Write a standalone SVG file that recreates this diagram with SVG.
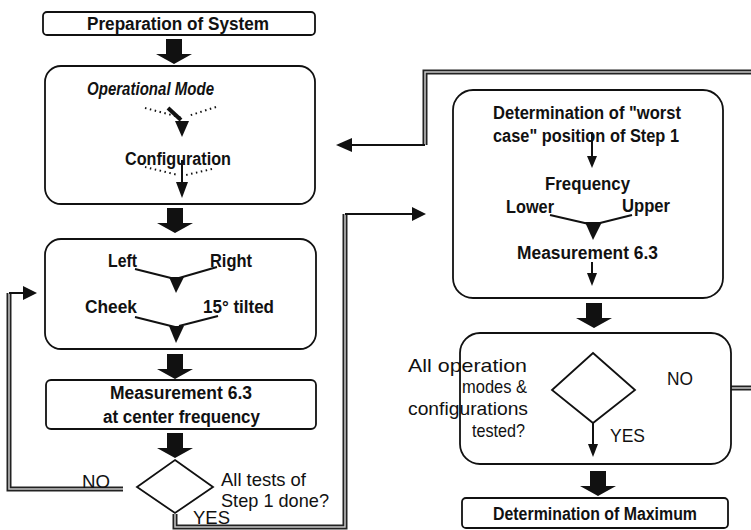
<svg xmlns="http://www.w3.org/2000/svg" width="751" height="530" viewBox="0 0 751 530">
<style>
.box{fill:#fff;stroke:#111;stroke-width:1.8}
.t{font-family:"Liberation Sans",Arial,sans-serif;fill:#111;font-size:19px}
.b{font-weight:bold;font-size:18px}
.ln{fill:none;stroke:#111;stroke-width:2}
.dot{fill:none;stroke:#111;stroke-width:2;stroke-dasharray:1.5 3.5}
.dblo{fill:none;stroke:#222;stroke-width:5}
.dbli{fill:none;stroke:#c8c8c8;stroke-width:1.5}
.hd{fill:#111}
</style>
<defs>
<path id="blk" d="M-8,0 H8 V15 H18 L0,25 L-18,15 H-8 Z" fill="#111"/>
</defs>
<rect width="751" height="530" fill="#fff"/>

<g id="connectors">
  <use href="#blk" x="174" y="39"/>
  <use href="#blk" x="175" y="208"/>
  <use href="#blk" x="175" y="354"/>
  <use href="#blk" x="175" y="433"/>
  <use href="#blk" x="594" y="303"/>
  <use href="#blk" x="598" y="471"/>
  <path class="dblo" d="M123,489 H9 V293"/>
  <path class="dbli" d="M123,489 H9 V293"/>
  <path class="ln" d="M9,293 H25"/>
  <polygon class="hd" points="23,286 37,293 23,300"/>
  <path class="dblo" d="M175,514 V527 H345 V214"/>
  <path class="dbli" d="M175,514 V527 H345 V214"/>
  <path class="ln" d="M345,214 H413"/>
  <polygon class="hd" points="412,207 426,214 412,221"/>
  <path class="dblo" d="M647,388 H751"/>
  <path class="dbli" d="M647,388 H751"/>
  <path class="dblo" d="M751,72 H425 V145"/>
  <path class="dbli" d="M751,72 H425 V145"/>
  <path class="ln" d="M425,145 H350"/>
  <polygon class="hd" points="352,138 336,145 352,152"/>
</g>

<g id="prep">
  <rect class="box" x="43" y="12" width="272" height="23" rx="4"/>
  <text class="t b" x="87" y="30" textLength="182" lengthAdjust="spacingAndGlyphs">Preparation of System</text>
</g>

<g id="mode-config">
  <rect class="box" x="45" y="66" width="270" height="138" rx="16"/>
  <text class="t b" x="87" y="95" font-style="italic" textLength="127" lengthAdjust="spacingAndGlyphs">Operational Mode</text>
  <path class="dot" d="M145,108 L183,118"/>
  <path class="dot" d="M216,107 L188,116"/>
  <path d="M168,108 L181,120" fill="none" stroke="#111" stroke-width="4"/>
  <polygon class="hd" points="175,121 189,121 182,137"/>
  <text class="t b" x="125" y="165" textLength="106" lengthAdjust="spacingAndGlyphs">Configuration</text>
  <path class="dot" d="M145,167 L178,175"/>
  <path class="dot" d="M212,169 L186,175"/>
  <path class="ln" d="M182,160 V184"/>
  <polygon class="hd" points="176,182 188,182 182,198"/>
</g>

<g id="position">
  <rect class="box" x="45" y="239" width="271" height="110" rx="16"/>
  <text class="t b" x="108" y="267" textLength="29" lengthAdjust="spacingAndGlyphs">Left</text>
  <text class="t b" x="210" y="267" textLength="42" lengthAdjust="spacingAndGlyphs">Right</text>
  <path class="ln" d="M135,269 L175,279"/>
  <path class="ln" d="M217,267 L179,278"/>
  <polygon class="hd" points="169,277 184,277 176,293"/>
  <text class="t b" x="85" y="313" textLength="52" lengthAdjust="spacingAndGlyphs">Cheek</text>
  <text class="t b" x="203" y="313" textLength="71" lengthAdjust="spacingAndGlyphs">15° tilted</text>
  <path class="ln" d="M135,317 L175,327"/>
  <path class="ln" d="M218,316 L179,326"/>
  <polygon class="hd" points="169,326 184,326 176,343"/>
</g>

<g id="measure-center">
  <rect class="box" x="46" y="380" width="270" height="49" rx="5"/>
  <text class="t b" x="110" y="399" textLength="142" lengthAdjust="spacingAndGlyphs">Measurement 6.3</text>
  <text class="t b" x="103" y="423" textLength="157" lengthAdjust="spacingAndGlyphs">at center frequency</text>
</g>

<g id="decision-step1">
  <polygon class="box" points="175,460 213,487 175,513 137,487"/>
  <text class="t" x="221" y="486" textLength="85" lengthAdjust="spacingAndGlyphs">All tests of</text>
  <text class="t" x="221" y="507" textLength="108" lengthAdjust="spacingAndGlyphs">Step 1 done?</text>
  <text class="t" x="82" y="488" textLength="28" lengthAdjust="spacingAndGlyphs">NO</text>
  <text class="t" x="193" y="524" textLength="37" lengthAdjust="spacingAndGlyphs">YES</text>
</g>

<g id="worst-case">
  <rect class="box" x="453" y="90" width="270" height="208" rx="20"/>
  <text class="t b" x="493" y="119" textLength="188" lengthAdjust="spacingAndGlyphs">Determination of "worst</text>
  <text class="t b" x="493" y="142" textLength="186" lengthAdjust="spacingAndGlyphs">case" position of Step 1</text>
  <path class="ln" d="M592,132 V158"/>
  <polygon class="hd" points="587,156 597,156 592,168"/>
  <text class="t b" x="545" y="190" textLength="85" lengthAdjust="spacingAndGlyphs">Frequency</text>
  <text class="t b" x="506" y="213" textLength="48" lengthAdjust="spacingAndGlyphs">Lower</text>
  <text class="t b" x="622" y="212" textLength="48" lengthAdjust="spacingAndGlyphs">Upper</text>
  <path class="ln" d="M550,215 L589,224"/>
  <path class="ln" d="M632,215 L596,224"/>
  <polygon class="hd" points="585,222 602,222 593,240"/>
  <text class="t b" x="517" y="259" textLength="141" lengthAdjust="spacingAndGlyphs">Measurement 6.3</text>
  <path class="ln" d="M592,262 V275"/>
  <polygon class="hd" points="587,273 597,273 592,286"/>
</g>

<g id="decision-all">
  <rect class="box" x="460" y="333" width="271" height="131" rx="20"/>
  <polygon class="box" points="593,353 635,390 593,423 552,390"/>
  <path class="ln" d="M593,423 V446"/>
  <polygon class="hd" points="588,444 598,444 593,457"/>
  <text class="t" x="408" y="372" textLength="119" lengthAdjust="spacingAndGlyphs">All operation</text>
  <text class="t" x="462" y="393" textLength="65" lengthAdjust="spacingAndGlyphs">modes &amp;</text>
  <text class="t" x="408" y="415" textLength="120" lengthAdjust="spacingAndGlyphs">configurations</text>
  <text class="t" x="472" y="437" textLength="53" lengthAdjust="spacingAndGlyphs">tested?</text>
  <text class="t" x="667" y="385" textLength="26" lengthAdjust="spacingAndGlyphs">NO</text>
  <text class="t" x="610" y="442" textLength="35" lengthAdjust="spacingAndGlyphs">YES</text>
</g>

<g id="maximum">
  <rect class="box" x="462" y="498" width="266" height="30" rx="4"/>
  <text class="t b" x="493" y="520" textLength="204" lengthAdjust="spacingAndGlyphs">Determination of Maximum</text>
</g>
</svg>
